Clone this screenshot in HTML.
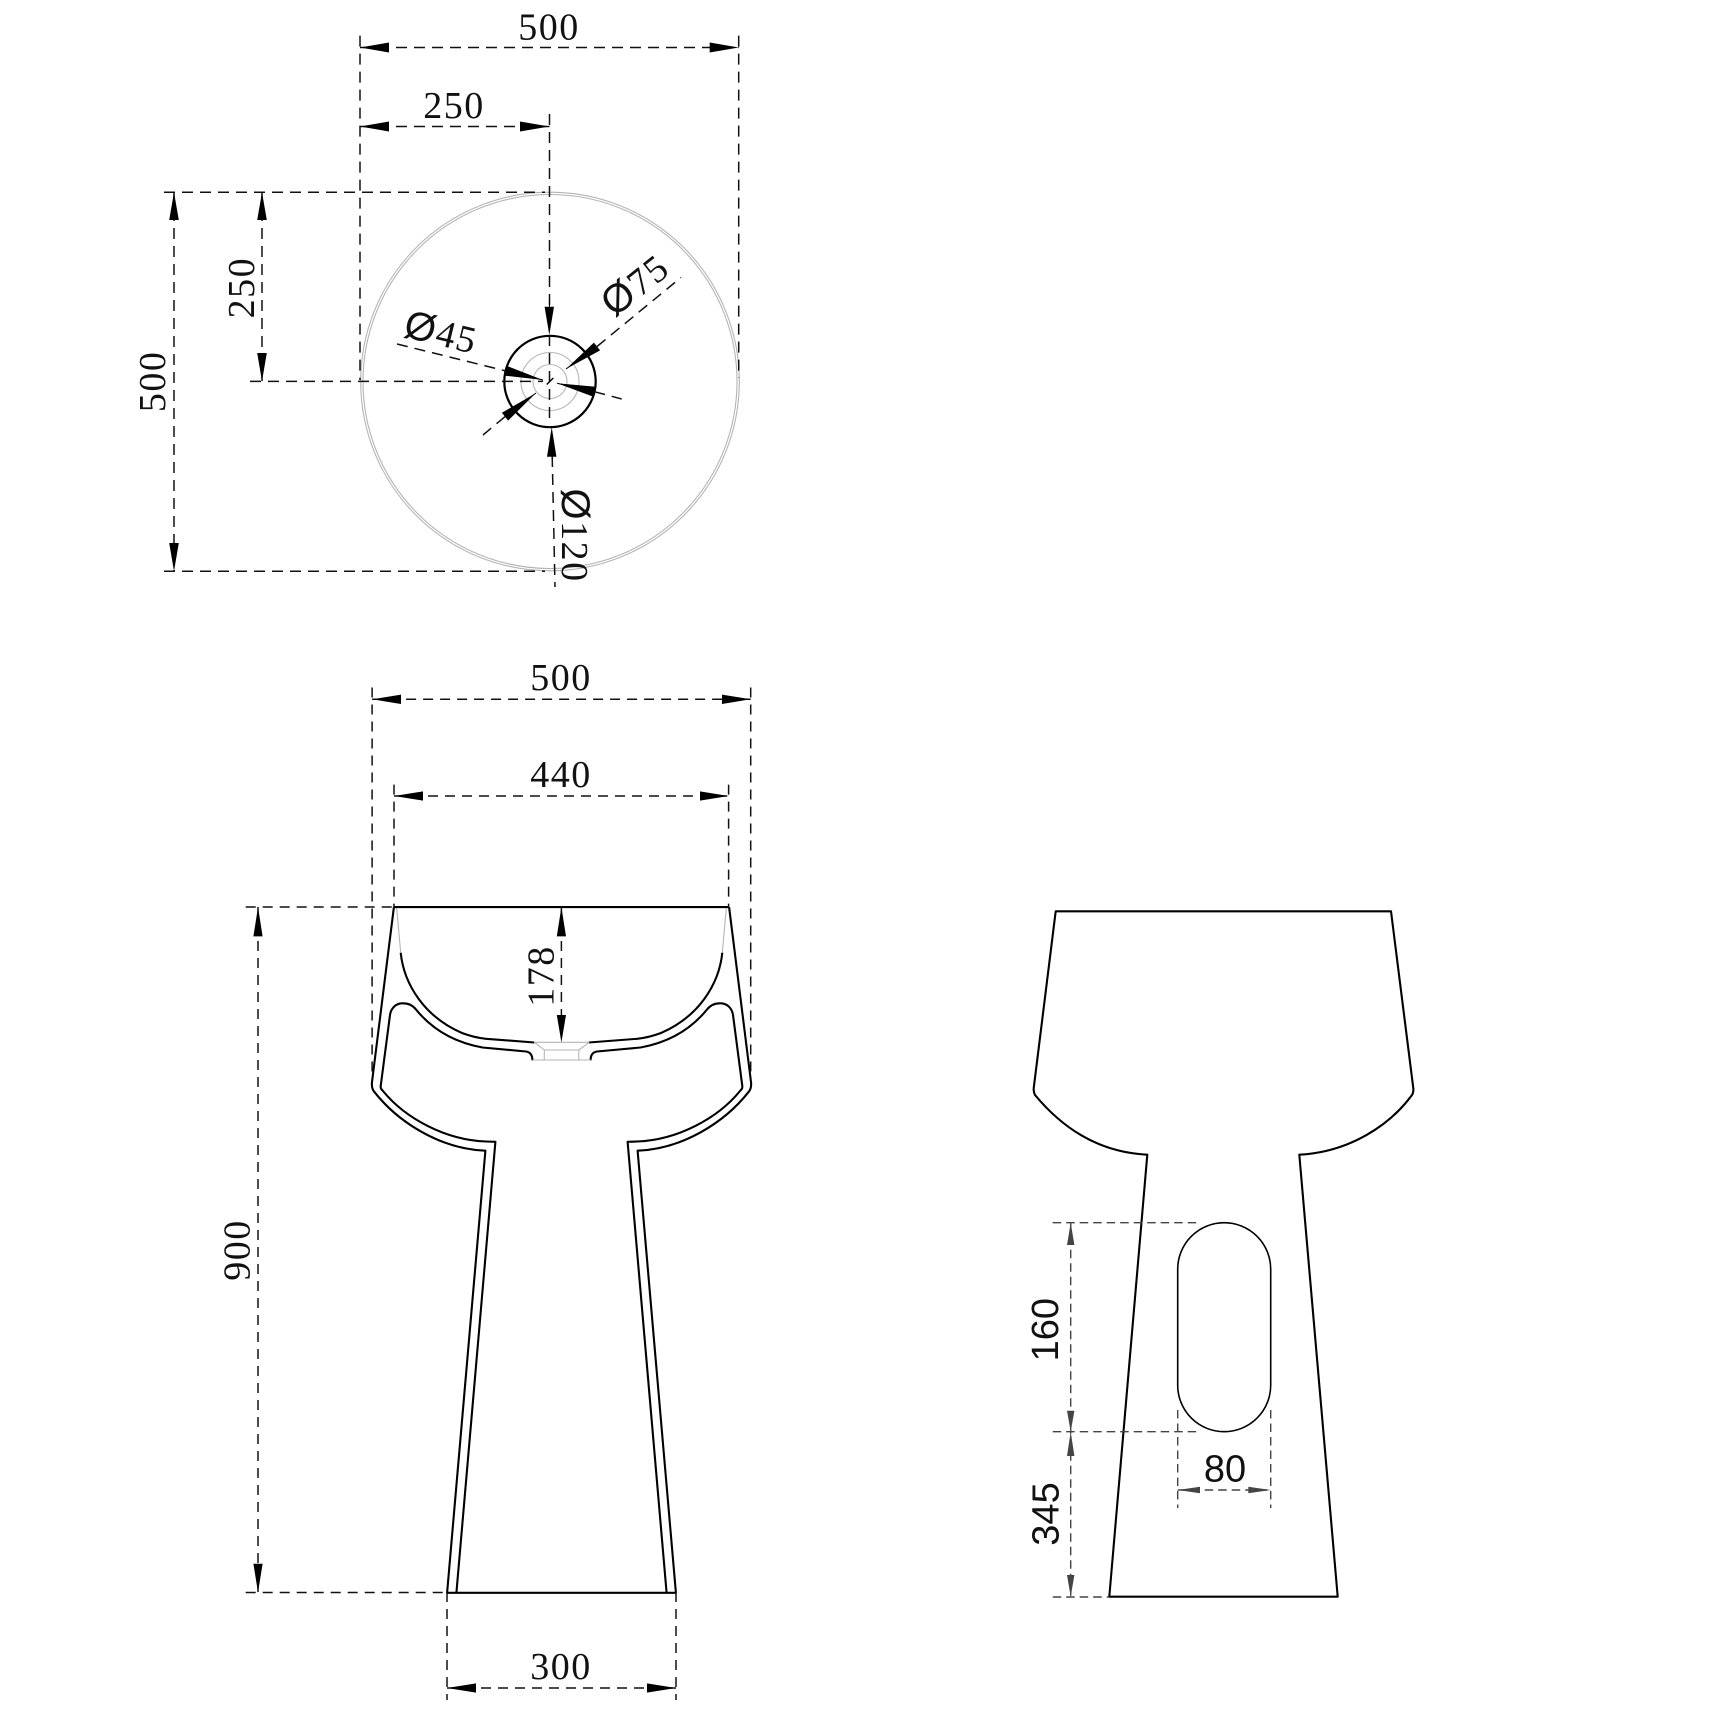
<!DOCTYPE html>
<html><head><meta charset="utf-8"><style>
html,body{margin:0;padding:0;background:#fff}
svg{display:block}
.t{font-family:"Liberation Serif",serif;font-size:38px;fill:#111;text-anchor:middle;letter-spacing:1.5px}
.s{font-family:"Liberation Sans",sans-serif;font-size:38px;fill:#111;text-anchor:middle}
.o{font-family:"Liberation Sans",sans-serif;font-size:40px}
.d{fill:none;stroke:#111;stroke-width:1.5;stroke-dasharray:11 7}
.e{fill:none;stroke:#444;stroke-width:1.4;stroke-dasharray:8.5 5}
.k{fill:none;stroke:#000;stroke-width:2.1;stroke-linejoin:round}
.g{fill:none;stroke:#b5b5b5;stroke-width:1.1}
</style></head><body>
<svg width="1718" height="1718" viewBox="0 0 1718 1718" xmlns="http://www.w3.org/2000/svg">
<rect width="1718" height="1718" fill="#fff"/>

<!-- TOP VIEW -->
<circle class="g" cx="550" cy="381.5" r="189.3"/>
<circle class="g" cx="550" cy="381.5" r="187"/>
<circle class="g" cx="550" cy="381.5" r="29"/>
<circle class="g" cx="550" cy="381.5" r="17"/>
<circle cx="550" cy="381.5" r="45.7" fill="none" stroke="#000" stroke-width="2.2"/>

<path class="d" d="M360 47.5H738.7M360 126.5H549.5M360 35.6V380M738.7 35.6V378M549.5 114V306M549.5 335V422"/>
<path class="d" d="M164 192.3H545M164 571.2H545M250 381.4H543M174 192V571M262 192V381"/>
<path class="d" d="M552.2 456L555 587"/>
<path class="d" d="M597 346.5L681 277.5M505 416.7L483 435M397 344L505 370.7M594.3 391.7L621.7 399"/>
<path d="M546.7 384.5L553.3 378" stroke="#000" stroke-width="1.4"/>
<path d="M549.5 299V310M566 369L597 346.5M536 393L505 416.7M505 370.7L543 380M594.3 391.7L557 383.3" stroke="#000" stroke-width="1"/>

<g fill="#000">
<polygon points="360,47.5 389,42.5 389,52.5"/>
<polygon points="738.7,47.5 709.7,42.5 709.7,52.5"/>
<polygon points="360,126.5 389,121.5 389,131.5"/>
<polygon points="549.3,126.5 520,121.5 520,131.5"/>
<polygon points="174,192.3 169.2,220 178.8,220"/>
<polygon points="174,571.2 169.2,543 178.8,543"/>
<polygon points="262,192.3 257.2,220 266.8,220"/>
<polygon points="262,381.4 257.2,353 266.8,353"/>
<polygon points="549.3,335 544.6,306.7 554,306.7"/>
<polygon points="551.7,427 547,456.7 556.4,456.7"/>
<polygon points="566,369 600.1,350.4 593.9,342.6"/>
<polygon points="536,393 508.1,420.6 501.9,412.8"/>
<polygon points="543,380 504.1,375.6 506.5,365.8"/>
<polygon points="557,383.3 593.1,396.6 595.5,386.8"/>
</g>

<text class="t" x="549" y="39.5">500</text>
<text class="t" x="454" y="118">250</text>
<text class="t" transform="translate(152 381.4) rotate(-90)" y="13">500</text>
<text class="t" transform="translate(241 287.6) rotate(-90)" y="13">250</text>
<text class="t" transform="translate(441 332.5) rotate(13.8)" y="13"><tspan class="o">Ø</tspan>45</text>
<text class="t" transform="translate(635 285) rotate(-38.4)" y="13"><tspan class="o">Ø</tspan>75</text>
<text class="t" transform="translate(575 535.5) rotate(90)" y="13"><tspan class="o">Ø</tspan>120</text>

<!-- FRONT VIEW -->
<path class="d" style="stroke-dasharray:10 7" d="M372.1 699.3H750.7M372.1 687.5V1072M750.7 687.5V1072M394 796H728.6M394 784.6V907M728.6 784.6V907M245.7 907H394M245.7 1592.5H447M258 907V1592M447 1592V1700M676 1592V1700M447 1688H676M561.4 907V1042"/>

<g>
<path class="k" d="M393.9 907.1L372 1082C371.5 1086 372 1089 374.3 1091.8C398 1122 440 1149 485.4 1150.7L447.1 1592.8"/>
<path class="k" d="M456.4 1592.8L495.4 1141.8L486 1141.5C445 1140 405 1118 383 1091C381 1089 380.5 1088 380.7 1086L390 1015C391 1008 396 1003.5 402 1003.3C408 1003 412.5 1005 416 1009.5C431 1028 452 1042 482.5 1047.5L526 1051.5C530 1052 532.3 1055 532.5 1060.4"/>
<path class="k" d="M400.7 952.7C404 985 425 1017 462 1033C470 1036 478 1038 486 1038.8L534.3 1042.5"/>
<path class="g" d="M396.7 908.3L400.7 952.7"/>
</g>
<g transform="matrix(-1 0 0 1 1123 0)">
<path class="k" d="M393.9 907.1L372 1082C371.5 1086 372 1089 374.3 1091.8C398 1122 440 1149 485.4 1150.7L447.1 1592.8"/>
<path class="k" d="M456.4 1592.8L495.4 1141.8L486 1141.5C445 1140 405 1118 383 1091C381 1089 380.5 1088 380.7 1086L390 1015C391 1008 396 1003.5 402 1003.3C408 1003 412.5 1005 416 1009.5C431 1028 452 1042 482.5 1047.5L526 1051.5C530 1052 532.3 1055 532.5 1060.4"/>
<path class="k" d="M400.7 952.7C404 985 425 1017 462 1033C470 1036 478 1038 486 1038.8L534.3 1042.5"/>
<path class="g" d="M396.7 908.3L400.7 952.7"/>
</g>
<path class="k" d="M393.9 907.1H728.6M447.1 1592.8H676"/>
<path class="g" d="M534.3 1042.3H589.3M544.3 1050H578.8M532.5 1060H590.7M534.3 1042.3L544.3 1050V1060M589.3 1042.3L578.8 1050V1060"/>

<g fill="#000">
<polygon points="372.1,699.3 401,694.6 401,704"/>
<polygon points="750.7,699.3 722,694.6 722,704"/>
<polygon points="394,796 423,791.4 423,800.6"/>
<polygon points="728.6,796 700,791.4 700,800.6"/>
<polygon points="258,907 253.4,936.4 262.6,936.4"/>
<polygon points="258,1592.5 253.4,1563.7 262.6,1563.7"/>
<polygon points="561.4,907 556.8,936.4 566,936.4"/>
<polygon points="561.4,1042.5 556.8,1015 566,1015"/>
<polygon points="447,1688 476,1683.4 476,1692.6"/>
<polygon points="676,1688 647,1683.4 647,1692.6"/>
</g>

<text class="t" x="561" y="690">500</text>
<text class="t" x="561" y="787">440</text>
<text class="t" x="561" y="1679">300</text>
<text class="t" transform="translate(236.5 1250) rotate(-90)" y="13">900</text>
<text class="t" transform="translate(540.5 976) rotate(-90)" y="13">178</text>

<!-- SIDE VIEW -->
<path class="k" d="M1055.7 911.3H1391L1413.3 1088.3C1413.6 1091 1413.3 1093 1412 1095C1390 1125 1350 1152 1299.3 1154.7L1337.7 1596.7H1109.3L1147.3 1154.7C1095 1152 1060 1125 1035 1095C1034 1093 1033.5 1091 1033.7 1088.3Z" stroke-width="1.9"/>
<rect x="1177.7" y="1222.7" width="93" height="209" rx="46.5" ry="46.5" fill="none" stroke="#000" stroke-width="1.6"/>
<path class="e" d="M1052.7 1222.7H1199M1052.7 1431.7H1199M1052.7 1597H1109M1070.7 1222.7V1597M1177.7 1410V1508M1270.7 1410V1508M1177.7 1490H1270.7"/>
<g fill="#444">
<polygon points="1070.7,1222.7 1067,1245 1074.4,1245"/>
<polygon points="1070.7,1431.7 1067,1410.7 1074.4,1410.7"/>
<polygon points="1070.7,1431.7 1067,1456 1074.4,1456"/>
<polygon points="1070.7,1596.7 1067,1575 1074.4,1575"/>
<polygon points="1177.7,1490 1200,1486.7 1200,1493.3"/>
<polygon points="1270.7,1490 1248.3,1486.7 1248.3,1493.3"/>
</g>
<text class="s" x="1225" y="1481.5">80</text>
<text class="s" transform="translate(1044.7 1329.7) rotate(-90)" y="13.5">160</text>
<text class="s" transform="translate(1045 1514) rotate(-90)" y="13.5">345</text>
</svg>
</body></html>
